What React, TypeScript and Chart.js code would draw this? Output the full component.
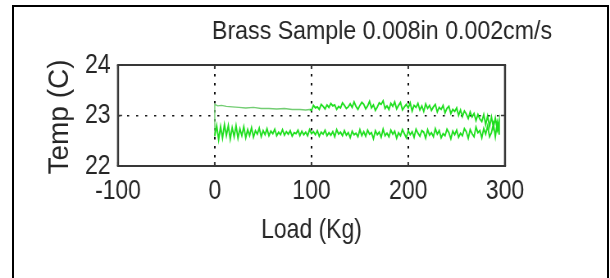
import React, { useEffect, useRef } from "react";
import { Chart, registerables } from "chart.js";

Chart.register(...registerables);

const TITLE = "Brass Sample 0.008in 0.002cm/s";
const X_LABEL = "Load (Kg)";
const Y_LABEL = "Temp (C)";
const xTicks = [-100, 0, 100, 200, 300];
const yTicks = [22, 23, 24];

// loading path (upper trace), starts with the jump at load 0
const upLoad = [
  0, 0, 3, 7, 12, 18, 25, 32, 40, 48, 56, 64, 72, 80, 88, 94, 98,
  100, 102, 104, 106, 108, 110, 112, 114, 116, 118, 120, 122, 124, 126, 128, 130,
  132, 134, 136, 138, 140, 142, 144, 146, 148, 150, 152, 154, 156, 158, 160, 162,
  164, 166, 168, 170, 172, 174, 176, 178, 180, 182, 184, 186, 188, 190, 192, 194,
  196, 198, 200, 202, 204, 206, 208, 210, 212, 214, 216, 218, 220, 222, 224, 226,
  228, 230, 232, 234, 236, 238, 240, 242, 244, 246, 248, 250, 252, 254, 256, 258,
  260, 262, 264, 266, 268, 270, 272, 274, 276, 278, 280, 282, 284, 286, 288, 290,
  292, 294,
];
const upTemp = [
  22.58, 23.22, 23.19, 23.2, 23.18, 23.17, 23.16, 23.15, 23.16, 23.14, 23.14, 23.13, 23.14, 23.12, 23.12, 23.11, 23.12,
  23.1, 23.2, 23.15, 23.17, 23.12, 23.22, 23.18, 23.13, 23.21, 23.16, 23.24, 23.19, 23.21, 23.12, 23.18, 23.15,
  23.25, 23.2, 23.14, 23.17, 23.23, 23.16, 23.27, 23.18, 23.12, 23.2, 23.26, 23.22, 23.13, 23.19, 23.28, 23.15,
  23.21, 23.1, 23.17, 23.25, 23.22, 23.29, 23.14, 23.19, 23.12, 23.24, 23.18, 23.27, 23.13, 23.2, 23.26, 23.11,
  23.17, 23.22, 23.15, 23.25, 23.09, 23.2, 23.16, 23.24, 23.11, 23.19, 23.08, 23.23, 23.14, 23.2, 23.1, 23.17,
  23.22, 23.07, 23.16, 23.12, 23.2, 23.05, 23.14, 23.18, 23.04, 23.12, 23.08, 23.15, 23.0, 23.11, 22.98, 23.09,
  23.03, 22.94, 23.07, 22.97, 23.04, 22.9, 23.02, 22.93, 22.88, 23.02, 22.82, 22.99, 22.78, 22.97, 22.76, 22.95,
  22.72, 22.9,
];

// unloading path (lower trace)
const downLoad = [
  294, 292, 290, 288, 286, 284, 282, 280, 278, 276, 274, 272, 270, 268, 266, 264,
  262, 260, 258, 256, 254, 252, 250, 248, 246, 244, 242, 240, 238, 236, 234, 232,
  230, 228, 226, 224, 222, 220, 218, 216, 214, 212, 210, 208, 206, 204, 202, 200,
  198, 196, 194, 192, 190, 188, 186, 184, 182, 180, 178, 176, 174, 172, 170, 168,
  166, 164, 162, 160, 158, 156, 154, 152, 150, 148, 146, 144, 142, 140, 138, 136,
  134, 132, 130, 128, 126, 124, 122, 120, 118, 116, 114, 112, 110, 108, 106, 104,
  102, 100, 98, 96, 94, 92, 90, 88, 86, 84, 82, 80, 78, 76, 74, 72,
  70, 68, 66, 64, 62, 60, 58, 56, 54, 52, 50, 48, 46, 44, 42, 40,
  38, 36, 34, 32, 30, 28, 26, 24, 22, 20, 18, 16, 14, 12, 10, 8,
  6, 4, 2, 0,
];
const downTemp = [
  22.62, 22.86, 22.58, 22.84, 22.66, 22.58, 22.79, 22.63, 22.74, 22.56, 22.7, 22.66, 22.77, 22.58, 22.64, 22.72,
  22.55, 22.68, 22.74, 22.6, 22.65, 22.57, 22.71, 22.62, 22.69, 22.54, 22.66, 22.73, 22.6, 22.64, 22.56, 22.7,
  22.63, 22.74, 22.58, 22.66, 22.61, 22.72, 22.55, 22.67, 22.7, 22.59, 22.65, 22.73, 22.57, 22.68, 22.62, 22.7,
  22.56, 22.64, 22.72, 22.6, 22.66, 22.55, 22.69, 22.63, 22.71, 22.58, 22.65, 22.6, 22.73, 22.57, 22.67, 22.62,
  22.7, 22.54, 22.66, 22.63, 22.71, 22.59, 22.68, 22.6, 22.72, 22.58, 22.65, 22.62, 22.69, 22.56, 22.66, 22.61,
  22.7, 22.6, 22.67, 22.63, 22.72, 22.58, 22.68, 22.61, 22.66, 22.6, 22.71, 22.63, 22.67, 22.59, 22.7, 22.62,
  22.68, 22.64, 22.72, 22.6, 22.67, 22.62, 22.69, 22.6, 22.71, 22.64, 22.66, 22.59, 22.7, 22.63, 22.68, 22.61,
  22.72, 22.62, 22.67, 22.6, 22.73, 22.64, 22.69, 22.6, 22.74, 22.62, 22.7, 22.58, 22.75, 22.63, 22.7, 22.57,
  22.76, 22.6, 22.72, 22.56, 22.78, 22.6, 22.74, 22.55, 22.8, 22.58, 22.76, 22.53, 22.8, 22.6, 22.82, 22.55,
  22.78, 22.52, 22.8, 22.6,
];

// the original figure is horizontally compressed: draw wide, squeeze with CSS
const PAGE_W = 610;
const PAGE_H = 278;
const CANVAS_W = 744;
const S = PAGE_W / CANVAS_W;
const FONT = "'Liberation Sans', Arial, Helvetica, sans-serif";
const TEXT = "#262626";
const GREEN = "rgb(30,222,30)";
const LIGHT_GREEN = "rgb(115,205,115)";
const LIGHT_COUNT = 16;

export default function App() {
  const ref = useRef<HTMLCanvasElement | null>(null);

  useEffect(() => {
    const canvas = ref.current;
    if (!canvas) return;
    const pts: { x: number; y: number }[] = [];
    for (let i = 0; i < Math.min(upLoad.length, upTemp.length); i++) pts.push({ x: upLoad[i], y: upTemp[i] });
    for (let i = 0; i < Math.min(downLoad.length, downTemp.length); i++) pts.push({ x: downLoad[i], y: downTemp[i] });

    const boxPlugin = {
      id: "box",
      afterDatasetsDraw(chart: any) {
        const { ctx, chartArea: a, scales } = chart;
        ctx.save();
        ctx.setLineDash([]);
        ctx.strokeStyle = "#383838";
        ctx.lineWidth = 2;
        ctx.beginPath();
        ctx.moveTo(a.left - 1.2, a.top);
        ctx.lineTo(a.right + 1.2, a.top);
        ctx.moveTo(a.left - 1.2, a.bottom);
        ctx.lineTo(a.right + 1.2, a.bottom);
        ctx.stroke();
        ctx.lineWidth = 2.5;
        ctx.beginPath();
        ctx.moveTo(a.left, a.top);
        ctx.lineTo(a.left, a.bottom);
        ctx.moveTo(a.right, a.top);
        ctx.lineTo(a.right, a.bottom);
        ctx.stroke();
        ctx.lineWidth = 2;
        for (const v of xTicks) {
          const px = scales.x.getPixelForValue(v);
          ctx.beginPath();
          ctx.moveTo(px, a.top);
          ctx.lineTo(px, a.top + 4);
          ctx.moveTo(px, a.bottom);
          ctx.lineTo(px, a.bottom - 4);
          ctx.stroke();
        }
        ctx.lineWidth = 1.5;
        for (const v of yTicks) {
          const py = scales.y.getPixelForValue(v);
          ctx.beginPath();
          ctx.moveTo(a.left, py);
          ctx.lineTo(a.left + 5, py);
          ctx.moveTo(a.right, py);
          ctx.lineTo(a.right - 5, py);
          ctx.stroke();
        }
        ctx.restore();
      },
      afterDraw(chart: any) {
        const { ctx, chartArea: a } = chart;
        ctx.save();
        ctx.fillStyle = TEXT;
        ctx.font = `26px ${FONT}`;
        ctx.textBaseline = "alphabetic";
        ctx.textAlign = "left";
        const w = ctx.measureText(TITLE).width;
        ctx.translate(212 / S, 38.5);
        ctx.scale(340 / S / w, 1);
        ctx.fillText(TITLE, 0, 0);
        ctx.restore();
        ctx.save();
        ctx.fillStyle = TEXT;
        ctx.font = `28px ${FONT}`;
        ctx.textAlign = "center";
        ctx.textBaseline = "middle";
        ctx.translate(60 / S, (a.top + a.bottom) / 2 + 1.5);
        ctx.scale(1 / S, 1);
        ctx.rotate(-Math.PI / 2);
        ctx.fillText(Y_LABEL, 0, 0);
        ctx.restore();
      },
    };

    const gridColor = (edges: number[]) => (c: any) =>
      c.tick && edges.includes(c.tick.value) ? "rgba(0,0,0,0)" : "#111";

    const chart = new Chart(canvas, {
      type: "line",
      data: {
        datasets: [
          {
            data: pts,
            borderColor: GREEN,
            borderWidth: 1.8,
            pointRadius: 0,
            tension: 0,
            fill: false,
            segment: {
              borderColor: (c: any) => (c.p0DataIndex < LIGHT_COUNT ? LIGHT_GREEN : GREEN),
              borderWidth: (c: any) => (c.p0DataIndex < LIGHT_COUNT ? 1.4 : 1.8),
            },
          },
        ],
      },
      options: {
        responsive: false,
        animation: false,
        devicePixelRatio: 1,
        layout: { padding: { left: 0, right: CANVAS_W - 505 / S, top: 65, bottom: 0 } },
        plugins: {
          legend: { display: false },
          tooltip: { enabled: false },
          title: { display: false },
        },
        scales: {
          x: {
            type: "linear",
            min: -100,
            max: 300,
            afterBuildTicks: (s: any) => {
              s.ticks = xTicks.map((v) => ({ value: v }));
            },
            afterFit: (s: any) => {
              s.height = PAGE_H - 166;
            },
            ticks: {
              font: { family: FONT, size: 28 },
              color: TEXT,
              padding: 8,
              maxRotation: 0,
              autoSkip: false,
            },
            grid: { color: gridColor([-100, 300]), lineWidth: 2, drawTicks: false },
            border: { display: false, dash: [2.5, 6.5] },
            title: {
              display: true,
              text: X_LABEL,
              font: { family: FONT, size: 28 },
              color: TEXT,
              padding: { top: 0, bottom: 31 },
            },
          },
          y: {
            type: "linear",
            min: 22,
            max: 24,
            afterBuildTicks: (s: any) => {
              s.ticks = yTicks.map((v) => ({ value: v }));
            },
            afterFit: (s: any) => {
              s.width = 118 / S;
            },
            ticks: {
              font: { family: FONT, size: 28 },
              color: TEXT,
              padding: 9,
              autoSkip: false,
            },
            grid: { color: gridColor([22, 24]), lineWidth: 1.5, drawTicks: false },
            border: { display: false, dash: [2.5, 8.5] },
            title: { display: false, text: Y_LABEL },
          },
        },
      },
      plugins: [boxPlugin],
    } as any);
    return () => chart.destroy();
  }, []);

  return (
    <div>
      <div
        style={{
          position: "absolute",
          left: 0,
          top: 0,
          width: PAGE_W,
          height: PAGE_H,
          overflow: "hidden",
        }}
      >
        <canvas
          ref={ref}
          width={CANVAS_W}
          height={PAGE_H}
          style={{
            display: "block",
            width: CANVAS_W,
            height: PAGE_H,
            transform: `scaleX(${S})`,
            transformOrigin: "0 0",
          }}
        />
      </div>
      <div
        style={{
          position: "absolute",
          left: 12,
          top: 5,
          width: 593,
          height: 271,
          borderLeft: "2px solid #000",
          borderTop: "2px solid #000",
          borderRight: "2px solid #000",
          pointerEvents: "none",
        }}
      />
    </div>
  );
}
